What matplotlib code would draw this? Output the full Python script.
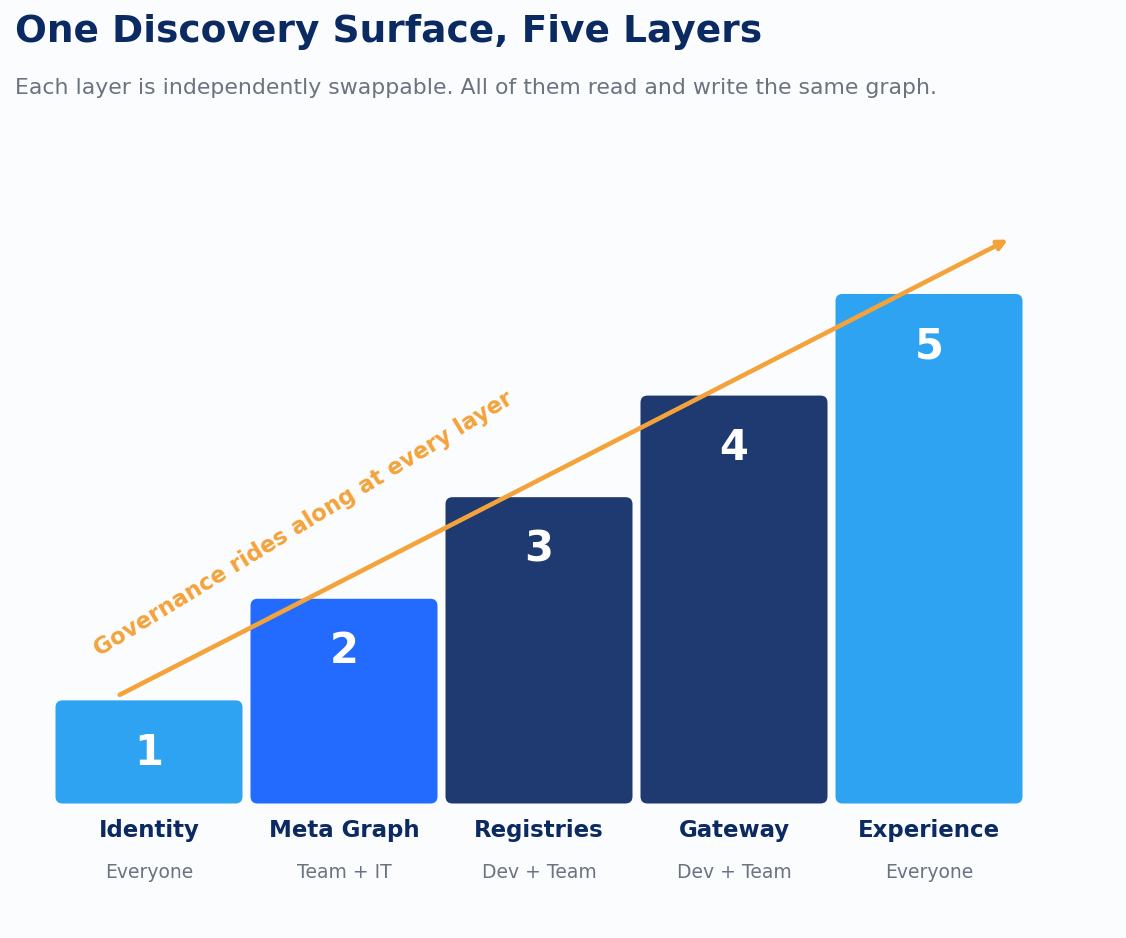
import matplotlib.pyplot as plt
import matplotlib.patches as mp

# --- data ---
layers = ["Identity", "Meta Graph", "Registries", "Gateway", "Experience"]
audiences = ["Everyone", "Team + IT", "Dev + Team", "Dev + Team", "Everyone"]
heights = [1, 2, 3, 4, 5]
colors = ["#2DA3F1", "#236BFE", "#1E3A71", "#1E3A71", "#2DA3F1"]

NAVY = "#0C2A62"
GREY = "#6B7280"
ORANGE = "#F4A33B"
BG = "#FBFCFE"

fig = plt.figure(figsize=(11.26, 9.38), dpi=100, facecolor=BG)
ax = fig.add_axes([0, 0, 1, 1])
ax.set_facecolor(BG)
ax.axis('off')

# pixel mapping: x = 149 + 195*i, y = 803 - 101.6*h
ax.set_xlim(-149 / 195, (1126 - 149) / 195)
ax.set_ylim(-(938 - 803.5) / 101.6, 803.5 / 101.6)

bw = 187 / 195
aspect = 195 / 101.6
for i, (h, c) in enumerate(zip(heights, colors)):
    r = mp.FancyBboxPatch((i - bw / 2, 0), bw, h + 0.015,
                          boxstyle="round,pad=0,rounding_size=0.036",
                          mutation_aspect=aspect,
                          linewidth=0, facecolor=c)
    ax.add_patch(r)
    ax.text(i, h - 0.5, str(i + 1), ha='center', va='center',
            fontsize=30, fontweight='bold', color='white')
    ax.text(i, -0.27, layers[i], ha='center', va='center',
            fontsize=16.5, fontweight='bold', color=NAVY)
    ax.text(i, -0.68, audiences[i], ha='center', va='center',
            fontsize=13.5, color=GREY)

# governance arrow
x0, y0 = -0.15, heights[0] + 0.07
x1, y1 = len(heights) - 1 + 0.405, heights[-1] + 0.55
ax.annotate('', xy=(x1, y1), xytext=(x0, y0),
            arrowprops=dict(arrowstyle='-|>', color=ORANGE, lw=3.3,
                            mutation_scale=14, shrinkA=0, shrinkB=0,
                            capstyle='round'))
ax.text((304 - 149) / 195, (803 - 524) / 101.6,
        "Governance rides along at every layer",
        ha='center', va='center', rotation=31.5, rotation_mode='anchor',
        fontsize=16.3, fontweight='bold', color=ORANGE)

fig.text(15 / 1126, 1 - 32 / 938, "One Discovery Surface, Five Layers",
         ha='left', va='center', fontsize=27, fontweight='bold', color=NAVY)
fig.text(15 / 1126, 1 - 88 / 938,
         "Each layer is independently swappable. All of them read and write the same graph.",
         ha='left', va='center', fontsize=15.8, color=GREY)

fig.savefig('out.png', dpi=100, facecolor=BG)
